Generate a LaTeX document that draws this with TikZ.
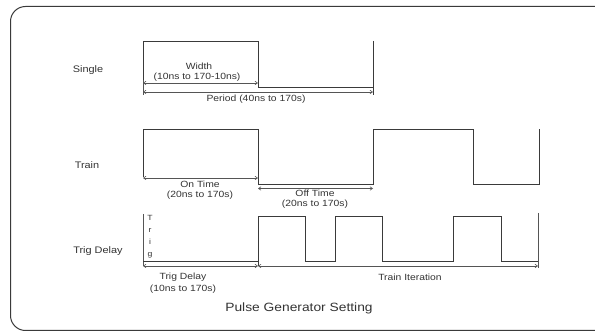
\documentclass[tikz,border=0pt]{standalone}
\usepackage{fontspec}
\setmainfont[FakeStretch=1.15]{Liberation Sans}
\usetikzlibrary{arrows.meta}
\definecolor{wave}{HTML}{3A3A3A}
\definecolor{dim}{HTML}{555555}
\definecolor{txt}{HTML}{333333}
\tikzset{
  wave/.style={draw=wave, line width=0.9pt},
  dimarrow/.style={draw=dim, line width=0.6pt, {Straight Barb[length=2.5pt,width=3.5pt]}-{Straight Barb[length=2.5pt,width=3.5pt]}},
  note/.style={text=txt, font=\fontsize{9}{11}\selectfont, align=center, inner sep=0pt},
  rowlabel/.style={text=txt, font=\fontsize{9.5}{11}\selectfont, inner sep=0pt},
  frame/.style={draw=wave, line width=1pt, rounded corners=15pt}
}
\begin{document}
\begin{tikzpicture}[x=1pt,y=-1pt]
\useasboundingbox (0,0) rectangle (595,331);
\draw[frame] (10.5,6.5) rectangle (640,330.5);

% Single
\node[rowlabel] (lsingle) at (88,70) {Single};
\draw[wave] (143,82) -- (143,41) -- (258,41) -- (258,87) -- (373,87);
\draw[wave] (373,41) -- (373,95);
\draw[dim, line width=0.6pt] (143,80) -- (143,95);
\draw[dimarrow] (143,83) -- (258,83);
\draw[dimarrow] (143,92) -- (373,92);
\node[note] (twidth) at (199,66) {Width};
\node[note] (twidthr) at (197,77) {(10ns to 170-10ns)};
\node[note] (tperiod) at (256,99) {Period (40ns to 170s)};

% Train
\node[rowlabel] (ltrain) at (87,165) {Train};
\draw[wave] (143,177) -- (143,129) -- (258,129) -- (258,184) -- (373,184) -- (373,129) -- (473,129) -- (473,184) -- (539,184) -- (539,129);
\draw[dimarrow] (143,178) -- (258,178);
\draw[dimarrow] (258,188.5) -- (373,188.5);
\node[note] (ton) at (200,184) {On Time};
\node[note] (tonr) at (200,195) {(20ns to 170s)};
\node[note] (toff) at (315,193) {Off Time};
\node[note] (toffr) at (315,204) {(20ns to 170s)};

% Trig Delay
\node[rowlabel] (ltrig) at (98,251) {Trig Delay};
\draw[dim, line width=0.6pt] (143,214) -- (143,266);
\node[note, font=\fontsize{7.5}{9}\selectfont] (vt1) at (150,218) {T};
\node[note, font=\fontsize{7.5}{9}\selectfont] (vt2) at (150,230) {r};
\node[note, font=\fontsize{7.5}{9}\selectfont] (vt3) at (150,242) {i};
\node[note, font=\fontsize{7.5}{9}\selectfont] (vt4) at (150,255) {g};
\draw[wave] (143,261) -- (258,261);
\draw[wave] (258,266) -- (258,216) -- (305,216) -- (305,261) -- (335,261) -- (335,216) -- (382,216) -- (382,261) -- (453,261) -- (453,216) -- (501,216) -- (501,261) -- (538,261);
\draw[dim, line width=0.6pt] (538,213) -- (538,268);
\draw[dimarrow] (143,266) -- (258,266);
\draw[dimarrow] (258,266) -- (538,266);
\node[note] (ttrig) at (183,277) {Trig Delay};
\node[note] (ttrigr) at (183,289) {(10ns to 170s)};
\node[note] (titer) at (410,277) {Train Iteration};

% Title
\node[text=txt, font=\fontsize{12}{14}\selectfont, inner sep=0pt] (title) at (299,308) {Pulse Generator Setting};
\end{tikzpicture}
\end{document}
